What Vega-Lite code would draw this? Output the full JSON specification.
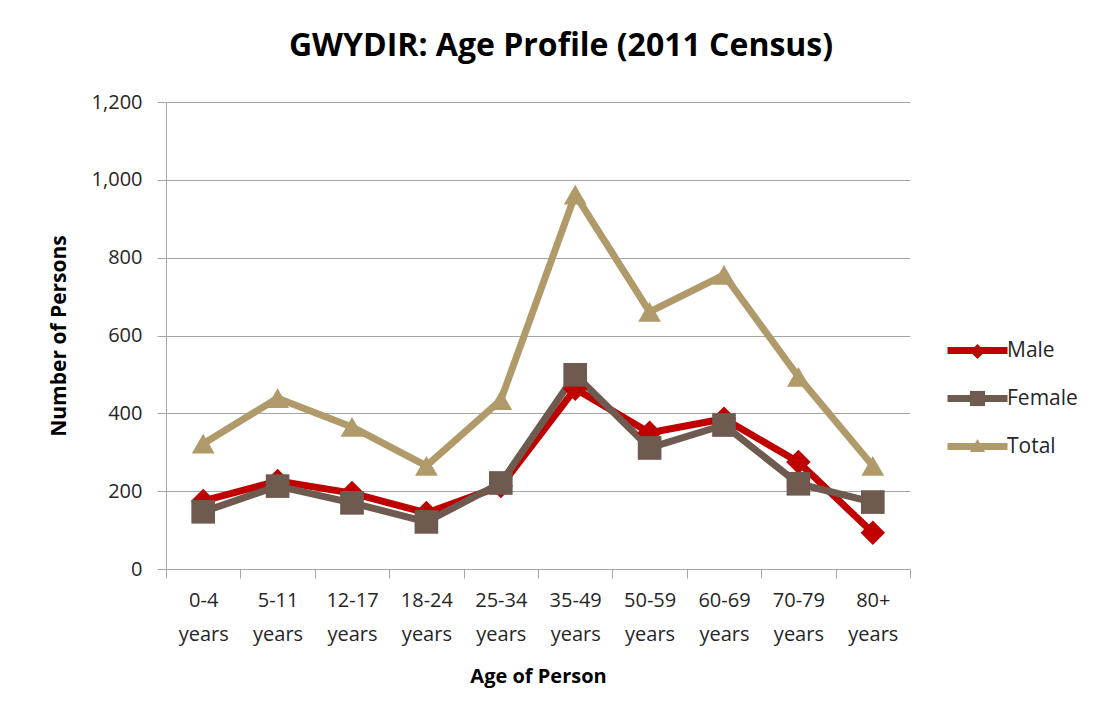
{
  "$schema": "https://vega.github.io/schema/vega-lite/v6.json",
  "width": 744,
  "height": 467,
  "autosize": {"type": "none"},
  "padding": {"left": 166, "top": 102, "right": 194, "bottom": 153},
  "background": "white",
  "config": {
    "font": "Open Sans",
    "view": {"stroke": null},
    "axis": {"labelFont": "Open Sans", "titleFont": "Open Sans", "labelColor": "#262626", "titleColor": "#000000"}
  },
  "title": {
    "text": "GWYDIR: Age Profile (2011 Census)",
    "font": "Open Sans",
    "fontSize": 32,
    "fontWeight": "bold",
    "color": "#000000",
    "anchor": "middle",
    "dx": 23,
    "offset": 29
  },
  "data": {
    "values": [
      {"age": "0-4 years", "series": "Male", "marker": "Male", "order": 1, "value": 175},
      {"age": "5-11 years", "series": "Male", "marker": "Male", "order": 1, "value": 226},
      {"age": "12-17 years", "series": "Male", "marker": "Male", "order": 1, "value": 195},
      {"age": "18-24 years", "series": "Male", "marker": "Male", "order": 1, "value": 144},
      {"age": "25-34 years", "series": "Male", "marker": "Male", "order": 1, "value": 213},
      {"age": "35-49 years", "series": "Male", "marker": "Male", "order": 1, "value": 463},
      {"age": "50-59 years", "series": "Male", "marker": "Male", "order": 1, "value": 350},
      {"age": "60-69 years", "series": "Male", "marker": "Male", "order": 1, "value": 386},
      {"age": "70-79 years", "series": "Male", "marker": "Male", "order": 1, "value": 275},
      {"age": "80+ years", "series": "Male", "marker": "Male", "order": 1, "value": 93},
      {"age": "0-4 years", "series": "Female", "marker": "Female", "order": 2, "value": 147},
      {"age": "5-11 years", "series": "Female", "marker": "Female", "order": 2, "value": 213},
      {"age": "12-17 years", "series": "Female", "marker": "Female", "order": 2, "value": 170},
      {"age": "18-24 years", "series": "Female", "marker": "Female", "order": 2, "value": 121},
      {"age": "25-34 years", "series": "Female", "marker": "Female", "order": 2, "value": 221},
      {"age": "35-49 years", "series": "Female", "marker": "Female", "order": 2, "value": 499},
      {"age": "50-59 years", "series": "Female", "marker": "Female", "order": 2, "value": 311},
      {"age": "60-69 years", "series": "Female", "marker": "Female", "order": 2, "value": 370},
      {"age": "70-79 years", "series": "Female", "marker": "Female", "order": 2, "value": 219},
      {"age": "80+ years", "series": "Female", "marker": "Female", "order": 2, "value": 172},
      {"age": "0-4 years", "series": "Total", "marker": "Total", "order": 3, "value": 322},
      {"age": "5-11 years", "series": "Total", "marker": "Total", "order": 3, "value": 439},
      {"age": "12-17 years", "series": "Total", "marker": "Total", "order": 3, "value": 365},
      {"age": "18-24 years", "series": "Total", "marker": "Total", "order": 3, "value": 265},
      {"age": "25-34 years", "series": "Total", "marker": "Total", "order": 3, "value": 434},
      {"age": "35-49 years", "series": "Total", "marker": "Total", "order": 3, "value": 962},
      {"age": "50-59 years", "series": "Total", "marker": "Total", "order": 3, "value": 661},
      {"age": "60-69 years", "series": "Total", "marker": "Total", "order": 3, "value": 756},
      {"age": "70-79 years", "series": "Total", "marker": "Total", "order": 3, "value": 494},
      {"age": "80+ years", "series": "Total", "marker": "Total", "order": 3, "value": 265}
    ]
  },
  "encoding": {
    "x": {
      "field": "age",
      "type": "nominal",
      "sort": null,
      "scale": {"type": "band", "paddingInner": 0, "paddingOuter": 0},
      "axis": {
        "title": "Age of Person",
        "titleFontSize": 20,
        "titleFontWeight": "bold",
        "titlePadding": 22,
        "labelExpr": "split(datum.label, ' ')",
        "labelAngle": 0,
        "labelFontSize": 20,
        "labelLineHeight": 34,
        "labelPadding": 12,
        "tickBand": "extent",
        "tickSize": 9,
        "tickColor": "#A6A6A6",
        "domainColor": "#A6A6A6",
        "grid": false
      }
    },
    "y": {
      "field": "value",
      "type": "quantitative",
      "scale": {"domain": [0, 1200], "nice": false},
      "axis": {
        "title": "Number of Persons",
        "titleFontSize": 21,
        "titleFontWeight": "bold",
        "titlePadding": 22,
        "values": [0, 200, 400, 600, 800, 1000, 1200],
        "format": ",d",
        "labelFontSize": 20,
        "labelPadding": 15,
        "tickSize": 9,
        "tickColor": "#A6A6A6",
        "domainColor": "#A6A6A6",
        "gridColor": "#A6A6A6",
        "grid": true
      }
    },
    "color": {
      "field": "series",
      "type": "nominal",
      "sort": {"field": "order", "op": "min"},
      "scale": {"range": ["#C00000", "#6E5A4F", "#B09A6A"]},
      "legend": {
        "orient": "none",
        "legendX": 778,
        "legendY": 215,
        "title": null,
        "symbolType": "stroke",
        "symbolSize": 3600,
        "symbolStrokeWidth": 7,
        "labelFontSize": 21,
        "labelFont": "Open Sans",
        "labelColor": "#262626",
        "labelOffset": -4,
        "rowPadding": 0,
        "zindex": 1
      }
    }
  },
  "layer": [
    {
      "mark": {"type": "line", "strokeWidth": 7, "strokeJoin": "round", "strokeCap": "round"}
    },
    {
      "mark": {"type": "point", "filled": true, "opacity": 1},
      "encoding": {
        "shape": {
          "field": "marker",
          "type": "nominal",
          "scale": {"domain": ["Male", "Female", "Total"], "range": ["diamond", "square", "triangle-up"]},
          "legend": {
            "orient": "none",
            "legendX": 801,
            "legendY": 239,
            "title": null,
            "symbolSize": 230,
            "symbolFillColor": {"expr": "datum.value === 'Male' ? '#C00000' : datum.value === 'Female' ? '#6E5A4F' : '#B09A6A'"},
            "symbolStrokeWidth": 0,
            "symbolOpacity": 1,
            "labelFontSize": 21,
            "labelExpr": "''",
            "labelOffset": -4,
            "rowPadding": 25,
            "zindex": 2
          }
        },
        "size": {
          "field": "marker",
          "type": "nominal",
          "scale": {"domain": ["Total", "Female", "Male"], "range": [520, 600, 360]},
          "legend": null
        }
      }
    }
  ]
}
